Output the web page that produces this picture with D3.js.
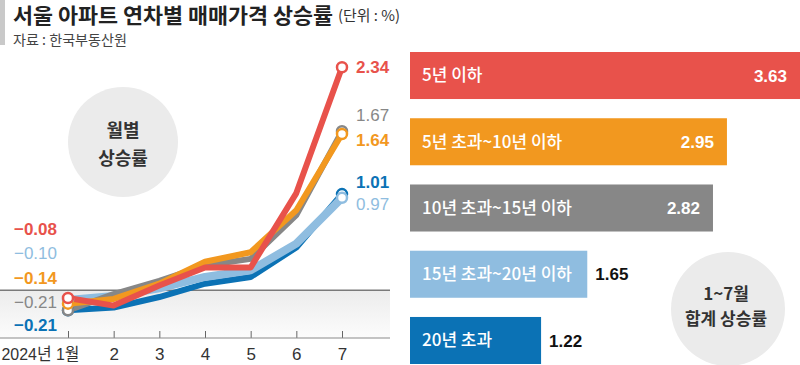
<!DOCTYPE html>
<html>
<head>
<meta charset="utf-8">
<script src="https://cdn.jsdelivr.net/npm/d3@7"></script>
<style>
    body { margin: 0; background: #fff; }
    svg text { font-family: "Liberation Sans", "Noto Sans CJK KR", sans-serif; }
    .kr { font-family: "Noto Sans CJK KR", "Liberation Sans", sans-serif; }
</style>
</head>
<body>
<div id="chart-container"></div>
<script>
// monthly rise by building age (line chart)
const months = ["1", "2", "3", "4", "5", "6", "7"];
const monthLabels = ["2024년 1월", "2", "3", "4", "5", "6", "7"];
const seriesNames = ["20년 초과", "15년 초과~20년 이하", "10년 초과~15년 이하", "5년 초과~10년 이하", "5년 이하"];
const darkBlueValues = [-0.21, -0.18, -0.07, 0.07, 0.14, 0.45, 1.01];
const lightBlueValues = [-0.10, -0.06, 0.02, 0.14, 0.21, 0.49, 0.97];
const grayValues = [-0.21, -0.04, 0.10, 0.26, 0.33, 0.79, 1.67];
const orangeValues = [-0.14, -0.09, 0.07, 0.30, 0.40, 0.84, 1.64];
const redValues = [-0.08, -0.16, 0.05, 0.24, 0.24, 1.02, 2.34];

// Jan~Jul total (bar chart)
const barCategories = ["5년 이하", "5년 초과~10년 이하", "10년 초과~15년 이하", "15년 초과~20년 이하", "20년 초과"];
const barValues = [3.63, 2.95, 2.82, 1.65, 1.22];

const colors = {
    red: "#e8524b",
    orange: "#f2981f",
    gray: "#878787",
    lightBlue: "#8fbde0",
    darkBlue: "#0b72b5"
};

var svg = d3.select("#chart-container")
    .append("svg")
    .attr("width", 800)
    .attr("height", 365);

// title block
svg.append("rect").attr("x", 0).attr("y", 0).attr("width", 5).attr("height", 45).attr("fill", "#c9c9c9");
svg.append("text")
    .attr("class", "kr")
    .attr("x", 13).attr("y", 23)
    .attr("textLength", 320).attr("lengthAdjust", "spacingAndGlyphs")
    .style("font-size", "21px").style("font-weight", "bold").style("fill", "#222")
    .text("서울 아파트 연차별 매매가격 상승률");
svg.append("text")
    .attr("class", "kr")
    .attr("x", 338).attr("y", 21)
    .attr("textLength", 62).attr("lengthAdjust", "spacingAndGlyphs")
    .style("font-size", "15px").style("fill", "#333")
    .text("(단위 : %)");
svg.append("text")
    .attr("class", "kr")
    .attr("x", 13).attr("y", 45)
    .attr("textLength", 114).attr("lengthAdjust", "spacingAndGlyphs")
    .style("font-size", "14px").style("fill", "#444")
    .text("자료 : 한국부동산원");

// ---------- line chart ----------
const xScale = d3.scalePoint().domain(months).range([68, 342]);
const yScale = d3.scaleLinear().domain([-0.5, 2.5]).range([338, 52]);

var defs = svg.append("defs");
var grad = defs.append("linearGradient").attr("id", "neg-fill")
    .attr("x1", 0).attr("y1", 0).attr("x2", 0).attr("y2", 1);
grad.append("stop").attr("offset", "0%").attr("stop-color", "#ececec");
grad.append("stop").attr("offset", "100%").attr("stop-color", "#fcfcfc");

svg.append("rect")
    .attr("x", 0).attr("y", yScale(0))
    .attr("width", 390).attr("height", yScale(-0.5) - yScale(0))
    .attr("fill", "url(#neg-fill)");
svg.append("line")
    .attr("x1", 0).attr("x2", 390)
    .attr("y1", yScale(0)).attr("y2", yScale(0))
    .attr("stroke", "#7a7a7a").attr("stroke-width", 1.5);

// x axis
const xAxis = d3.axisBottom(xScale).tickSize(0).tickFormat((d, i) => monthLabels[i]);
var gx = svg.append("g")
    .attr("transform", `translate(0, ${yScale(-0.5)})`)
    .call(xAxis);
gx.select(".domain").remove();
gx.selectAll(".tick").append("line")
    .attr("y1", -7).attr("y2", 0).attr("stroke", "#666");
svg.append("line")
    .attr("x1", 0).attr("x2", 390)
    .attr("y1", yScale(-0.5)).attr("y2", yScale(-0.5))
    .attr("stroke", "#8a8a8a").attr("stroke-width", 1);
gx.selectAll("text")
    .attr("y", 10)
    .style("font-size", "17px").style("fill", "#333")
    .style("font-family", "'Liberation Sans', 'Noto Sans CJK KR', sans-serif");
gx.selectAll(".tick").filter((d, i) => i == 0).select("text")
    .attr("text-anchor", "end").attr("x", 11)
    .attr("textLength", 78).attr("lengthAdjust", "spacingAndGlyphs");

// month bubble
svg.append("circle").attr("cx", 123).attr("cy", 142).attr("r", 55).attr("fill", "#ebebeb");
svg.append("text").attr("class", "kr")
    .attr("x", 123).attr("y", 137).attr("text-anchor", "middle")
    .style("font-size", "18px").style("font-weight", "bold").style("fill", "#333")
    .text("월별");
svg.append("text").attr("class", "kr")
    .attr("x", 123).attr("y", 165).attr("text-anchor", "middle")
    .style("font-size", "18px").style("font-weight", "bold").style("fill", "#333")
    .text("상승률");

const series = [
    { values: darkBlueValues, color: colors.darkBlue, width: 6, bold: true, startY: 325, endY: 182 },
    { values: lightBlueValues, color: colors.lightBlue, width: 8, bold: false, startY: 253, endY: 204 },
    { values: grayValues, color: colors.gray, width: 6, bold: false, startY: 302, endY: 115 },
    { values: orangeValues, color: colors.orange, width: 6, bold: true, startY: 278, endY: 140 },
    { values: redValues, color: colors.red, width: 6, bold: true, startY: 229, endY: 67 }
];

const line = d3.line()
    .x((d, i) => xScale(months[i]))
    .y(d => yScale(d))
    .curve(d3.curveLinear);

function fmt(v) {
    return (v < 0 ? "\u2212" : "") + Math.abs(v).toFixed(2);
}

series.forEach(s => {
    svg.append("path")
        .datum(s.values)
        .attr("d", line)
        .attr("fill", "none")
        .attr("stroke", s.color)
        .attr("stroke-width", s.width)
        .attr("stroke-linejoin", "round");
});
series.forEach(s => {
    var ends = [0, s.values.length - 1];
    ends.forEach(i => {
        svg.append("circle")
            .attr("cx", xScale(months[i]))
            .attr("cy", yScale(s.values[i]))
            .attr("r", 5)
            .attr("fill", "#fff")
            .attr("stroke", s.color)
            .attr("stroke-width", 2.5);
    });
    // start label (left)
    svg.append("text")
        .attr("x", 57).attr("y", s.startY).attr("dy", "0.36em")
        .attr("text-anchor", "end")
        .style("font-size", "17px")
        .style("font-weight", s.bold ? "bold" : "normal")
        .style("fill", s.color)
        .text(fmt(s.values[0]));
    // end label (right)
    svg.append("text")
        .attr("x", 356).attr("y", s.endY).attr("dy", "0.36em")
        .style("font-size", "17px")
        .style("font-weight", s.bold ? "bold" : "normal")
        .style("fill", s.color)
        .text(fmt(s.values[s.values.length - 1]));
});

// ---------- bar chart ----------
const barColors = [colors.red, colors.orange, colors.gray, colors.lightBlue, colors.darkBlue];
const bx = d3.scaleLinear().domain([0, 3.63]).range([410, 800]);
const by = d3.scaleBand().domain(barCategories).range([52, 364]).paddingInner(0.29).paddingOuter(0);

svg.selectAll(".bar")
    .data(barCategories)
    .enter()
    .append("rect")
    .attr("class", "bar")
    .attr("x", bx(0))
    .attr("y", d => by(d))
    .attr("width", (d, i) => bx(barValues[i]) - bx(0))
    .attr("height", by.bandwidth())
    .attr("fill", (d, i) => barColors[i]);

svg.selectAll(".bar-label")
    .data(barCategories)
    .enter()
    .append("text")
    .attr("class", "bar-label kr")
    .attr("x", bx(0) + 12)
    .attr("y", d => by(d) + by.bandwidth() / 2)
    .attr("dy", "0.35em")
    .style("font-size", "17px")
    .style("font-weight", "500")
    .style("fill", "#fff")
    .text(d => d);

svg.selectAll(".bar-value")
    .data(barValues)
    .enter()
    .append("text")
    .attr("class", "bar-value")
    .attr("x", (d, i) => i < 3 ? bx(d) - 13 : bx(d) + 8)
    .attr("y", (d, i) => by(barCategories[i]) + by.bandwidth() / 2)
    .attr("dy", "0.36em")
    .attr("text-anchor", (d, i) => i < 3 ? "end" : "start")
    .style("font-size", "17px")
    .style("font-weight", "bold")
    .style("fill", (d, i) => i < 3 ? "#fff" : "#111")
    .text(d => d.toFixed(2));

// total bubble
svg.append("circle").attr("cx", 728).attr("cy", 309).attr("r", 57).attr("fill", "#ebebeb");
svg.append("text").attr("class", "kr")
    .attr("x", 726).attr("y", 300).attr("text-anchor", "middle")
    .style("font-size", "17px").style("font-weight", "bold").style("fill", "#333")
    .text("1~7월");
svg.append("text").attr("class", "kr")
    .attr("x", 726).attr("y", 325).attr("text-anchor", "middle")
    .style("font-size", "17px").style("font-weight", "bold").style("fill", "#333")
    .text("합계 상승률");
</script>
</body>
</html>
